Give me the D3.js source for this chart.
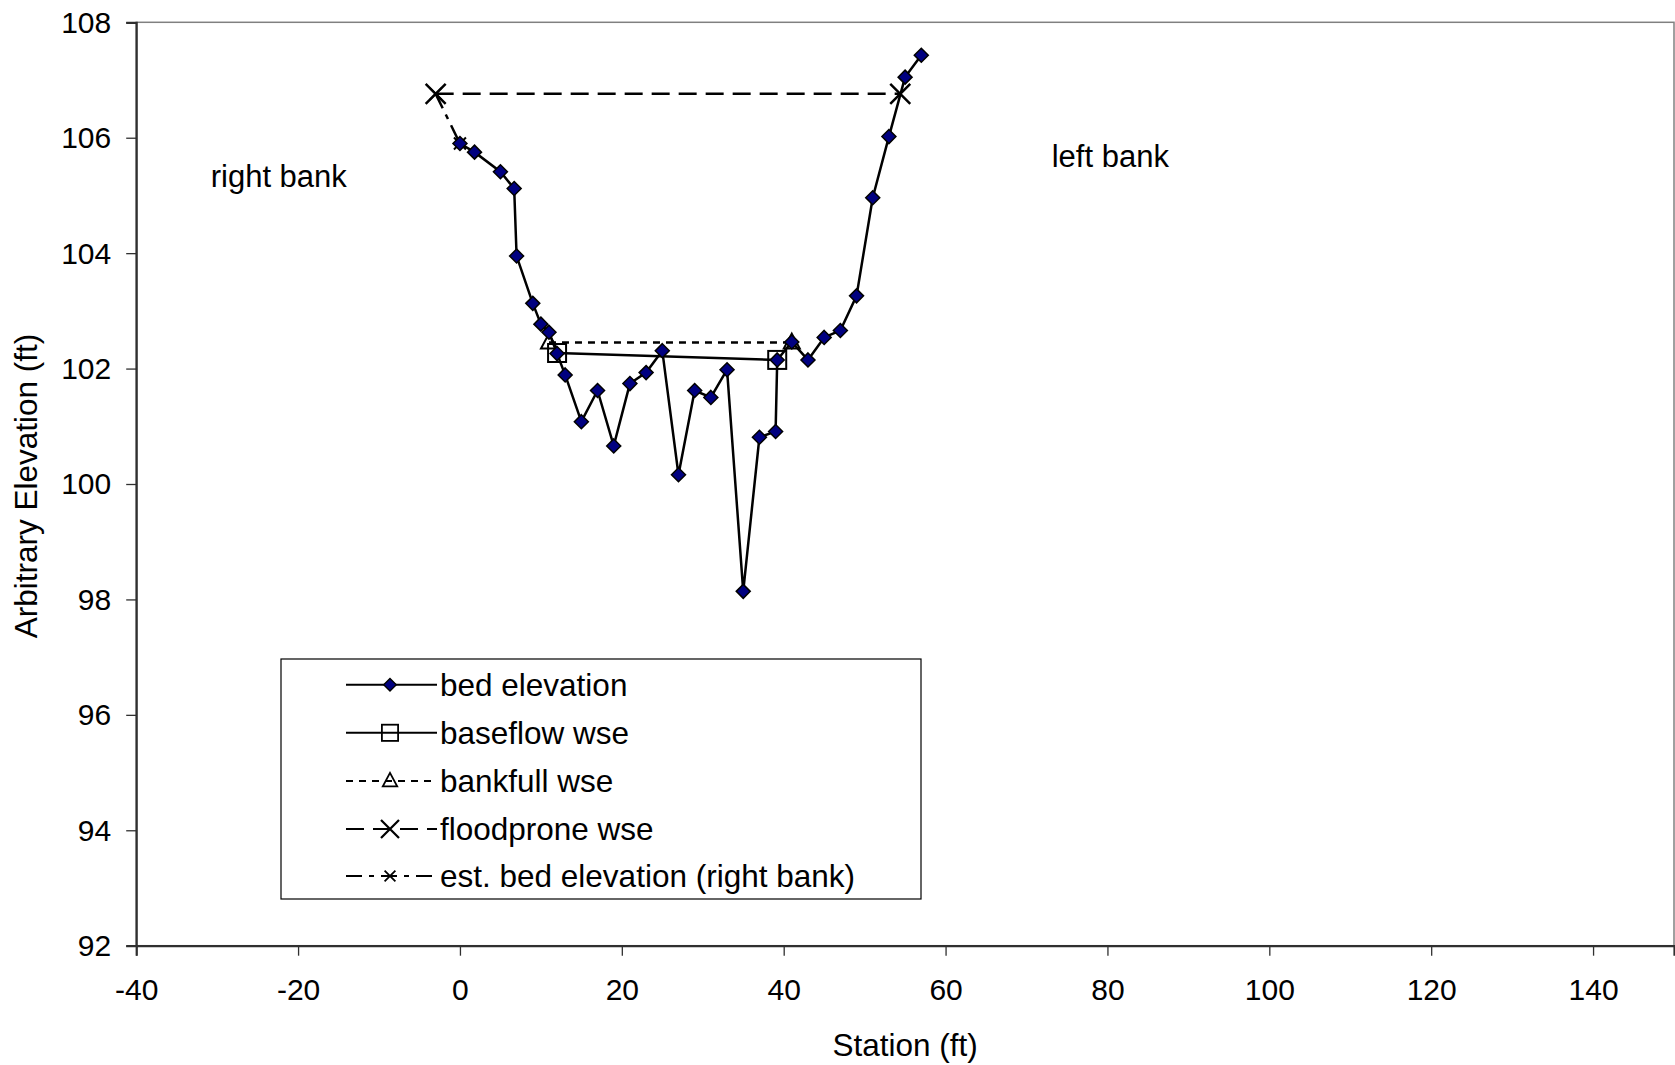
<!DOCTYPE html>
<html>
<head>
<meta charset="utf-8">
<script src="https://cdn.jsdelivr.net/npm/d3@7"></script>
<style>
  body { margin: 0; background: #fff; }
  text { font-family: "Liberation Sans", Arial, sans-serif; fill: #000; }
</style>
</head>
<body>
<script>
var width = 1675,
    height = 1065;

// bed survey points (station ft, elevation ft)
var bedStation = [0, 1.8, 5, 6.7, 7, 9, 10, 11, 12, 13, 15, 17, 19, 21, 23, 25, 27, 29, 31, 33, 35, 37, 39, 39.2, 41, 43, 45, 47, 49, 51, 53, 55, 57];
var bedElev = [105.9, 105.75, 105.41, 105.12, 103.95, 103.13, 102.77, 102.63, 102.26, 101.89, 101.08, 101.62, 100.66, 101.74, 101.93, 102.31, 100.16, 101.62, 101.5, 101.98, 98.14, 100.81, 100.91, 102.15, 102.46, 102.15, 102.54, 102.66, 103.26, 104.96, 106.02, 107.05, 107.43];

var baseflowStation = [12, 39.2];
var baseflowElev = [102.27, 102.15];

var bankfullStation = [11, 41];
var bankfullElev = [102.45, 102.45];

var floodStation = [-3, 54.4];
var floodElev = [106.76, 106.76];

var estStation = [-3, 0];
var estElev = [106.76, 105.9];

var xTicks = [-40, -20, 0, 20, 40, 60, 80, 100, 120, 140];
var yTicks = [92, 94, 96, 98, 100, 102, 104, 106, 108];

var labels = [
  {text: "right bank", x: 210.7, y: 186.5},
  {text: "left bank", x: 1051.7, y: 166.7}
];

function zip(xs, ys) {
  return xs.map(function(d, i) { return {x: d, y: ys[i]}; });
}

var series = [
  {name: "bed elevation", data: zip(bedStation, bedElev), dash: null, marker: "diamond"},
  {name: "baseflow wse", data: zip(baseflowStation, baseflowElev), dash: null, marker: "square"},
  {name: "bankfull wse", data: zip(bankfullStation, bankfullElev), dash: "7,6", marker: "triangle"},
  {name: "floodprone wse", data: zip(floodStation, floodElev), dash: "18,9", marker: "bigx"},
  {name: "est. bed elevation (right bank)", data: zip(estStation, estElev), dash: "16,7,5,7", marker: "smallx"}
];

var plotL = 136.2, plotR = 1674, plotT = 22.3, plotB = 945.7;

var x = d3.scaleLinear().domain([-40, 150]).range([plotL, plotR]);
var y = d3.scaleLinear().domain([92, 108]).range([plotB, plotT]);

// plain hyphen for negatives, like the original
var fmt = function(d) { return String(d); };

var svg = d3.select("body").append("svg")
    .attr("width", width)
    .attr("height", height);

// plot area border
svg.append("rect")
  .attr("x", plotL).attr("y", plotT)
  .attr("width", plotR - plotL).attr("height", plotB - plotT)
  .attr("fill", "none")
  .attr("stroke", "#808080")
  .attr("stroke-width", 1.5);

// axes
var xAxis = svg.append("g")
  .attr("transform", "translate(0," + plotB + ")")
  .call(d3.axisBottom(x).tickValues(xTicks).tickSize(10).tickPadding(23).tickFormat(fmt));

var yAxis = svg.append("g")
  .attr("transform", "translate(" + plotL + ",0)")
  .call(d3.axisLeft(y).tickValues(yTicks).tickSize(10).tickPadding(15).tickFormat(fmt));

[xAxis, yAxis].forEach(function(g) {
  g.select(".domain").attr("stroke", "#303030").attr("stroke-width", 2.2);
  g.selectAll(".tick line").attr("stroke", "#303030").attr("stroke-width", 1.3);
  g.selectAll(".tick text")
    .style("font-family", '"Liberation Sans", Arial, sans-serif')
    .style("font-size", "30px")
    .attr("fill", "#000");
});
yAxis.selectAll(".tick text").attr("dy", "0.33em");

// axis titles
svg.append("text")
  .attr("x", (plotL + plotR) / 2)
  .attr("y", 1056)
  .attr("text-anchor", "middle")
  .style("font-size", "31.5px")
  .text("Station (ft)");

svg.append("text")
  .attr("transform", "translate(37," + ((plotT + plotB) / 2 + 2) + ") rotate(-90)")
  .attr("text-anchor", "middle")
  .style("font-size", "31.5px")
  .text("Arbitrary Elevation (ft)");

// bank labels
svg.selectAll(".bank")
  .data(labels)
  .enter().append("text")
  .attr("class", "bank")
  .attr("x", function(d) { return d.x; })
  .attr("y", function(d) { return d.y; })
  .style("font-size", "31px")
  .text(function(d) { return d.text; });

var line = d3.line()
  .x(function(d) { return x(d.x); })
  .y(function(d) { return y(d.y); });

function drawMarker(g, type) {
  if (type === "diamond") {
    g.append("path").attr("d", "M0,-7L7,0L0,7L-7,0Z")
      .attr("fill", "#000080").attr("stroke", "#000").attr("stroke-width", 1.5);
  } else if (type === "square") {
    g.append("rect").attr("x", -9).attr("y", -9).attr("width", 18).attr("height", 18)
      .attr("fill", "none").attr("stroke", "#000").attr("stroke-width", 2);
  } else if (type === "triangle") {
    g.append("path").attr("d", "M0,-9L8,6L-8,6Z")
      .attr("fill", "none").attr("stroke", "#000").attr("stroke-width", 2);
  } else if (type === "bigx") {
    g.append("path").attr("d", "M-10,-10L10,10M10,-10L-10,10")
      .attr("stroke", "#000").attr("stroke-width", 2.5);
  } else if (type === "smallx") {
    g.append("path").attr("d", "M-6,-6L6,6M6,-6L-6,6")
      .attr("stroke", "#000").attr("stroke-width", 2);
  }
}

// draw series, last first so bed elevation sits on top
series.slice().reverse().forEach(function(s) {
  svg.append("path")
    .datum(s.data)
    .attr("d", line)
    .attr("fill", "none")
    .attr("stroke", "#000")
    .attr("stroke-width", 2.5)
    .attr("stroke-dasharray", s.dash);

  svg.append("g").selectAll("g")
    .data(s.data)
    .enter().append("g")
    .attr("transform", function(d) { return "translate(" + x(d.x) + "," + y(d.y) + ")"; })
    .each(function() { drawMarker(d3.select(this), s.marker); });
});

// legend
var legend = svg.append("g");
legend.append("rect")
  .attr("x", 281).attr("y", 659)
  .attr("width", 640).attr("height", 240)
  .attr("fill", "#fff")
  .attr("stroke", "#000")
  .attr("stroke-width", 1.2);

var rowY = [684.7, 732.8, 780.9, 829, 876];

var item = legend.selectAll(".item")
  .data(series)
  .enter().append("g")
  .attr("class", "item")
  .attr("transform", function(d, i) { return "translate(0," + rowY[i] + ")"; });

item.append("line")
  .attr("x1", 346).attr("x2", 437)
  .attr("stroke", "#000")
  .attr("stroke-width", 2)
  .attr("stroke-dasharray", function(d) { return d.dash; });

item.each(function(d) {
  var g = d3.select(this).append("g").attr("transform", "translate(390,0) scale(0.9)");
  drawMarker(g, d.marker);
});

item.append("text")
  .attr("x", 440)
  .attr("y", 11)
  .style("font-size", "31.5px")
  .text(function(d) { return d.name; });
</script>
</body>
</html>
